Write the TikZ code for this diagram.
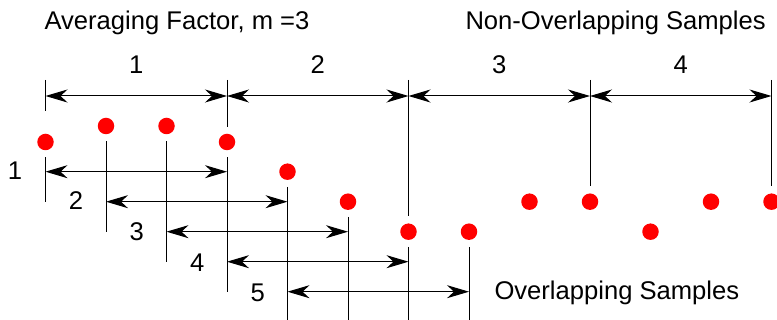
\documentclass[tikz,border=0pt]{standalone}
\usepackage{fontspec}
\setmainfont{Liberation Sans}
\usetikzlibrary{arrows.meta}
\begin{document}
\begin{tikzpicture}[x=1pt,y=-1pt,
  line width=1pt,
  >={Stealth[length=22pt,width=13pt,inset=7pt]},
  lbl/.style={inner sep=0pt,font=\fontsize{25.6}{30}\selectfont},
  sample/.style={circle,fill=red,draw=none,minimum size=16.5pt,inner sep=0pt,outer sep=7pt},
  dimline/.style={<->}]
\useasboundingbox (0,0) rectangle (777,320);
% titles
\node[lbl,anchor=base west] (title1) at (44,29.3) {Averaging Factor, m =3};
\node[lbl,anchor=base west] (title2) at (465,29.3) {Non-Overlapping Samples};
\node[lbl,anchor=base west] (title3) at (494,300) {Overlapping Samples};
% samples
\node[sample] (d1) at (45.5,142) {};
\node[sample] (d2) at (106,126) {};
\node[sample] (d3) at (166.5,126) {};
\node[sample] (d4) at (227,142) {};
\node[sample] (d5) at (287.5,171.7) {};
\node[sample] (d6) at (348,201.7) {};
\node[sample] (d7) at (408.5,231.7) {};
\node[sample] (d8) at (469,231.7) {};
\node[sample] (d9) at (529.5,201.7) {};
\node[sample] (d10) at (590,201.7) {};
\node[sample] (d11) at (650.5,231.7) {};
\node[sample] (d12) at (711,201.7) {};
\node[sample] (d13) at (771.5,201.7) {};
% top (non-overlapping) dimension lines
\coordinate (n0) at (45.5,96);
\coordinate (n1) at (227,96);
\coordinate (n2) at (408.5,96);
\coordinate (n3) at (590,96);
\coordinate (n4) at (771.5,96);
\coordinate (t0a) at (45.5,80);
\coordinate (t0b) at (45.5,111);
\coordinate (t1) at (227,80);
\coordinate (t2) at (408.5,80);
\coordinate (t3) at (590,80);
\coordinate (t4) at (771.5,80);
\draw (t0a) -- (t0b);
\draw (t1) -- (d4);
\draw (t2) -- (d7);
\draw (t3) -- (d10);
\draw (t4) -- (d13);
\draw[dimline] (n0) -- (n1);
\draw[dimline] (n1) -- (n2);
\draw[dimline] (n2) -- (n3);
\draw[dimline] (n3) -- (n4);
\node[lbl,anchor=base] (nl1) at (136.25,74) {1};
\node[lbl,anchor=base] (nl2) at (317.75,74) {2};
\node[lbl,anchor=base] (nl3) at (499.25,74) {3};
\node[lbl,anchor=base] (nl4) at (680.75,74) {4};
% lower vertical lines
\coordinate (b1) at (45.5,201.7);
\coordinate (b2) at (106,231.7);
\coordinate (b3) at (166.5,261.7);
\coordinate (b4) at (227,291.7);
\coordinate (b5) at (287.5,320);
\coordinate (b6) at (348,320);
\coordinate (b7) at (408.5,320);
\coordinate (b8) at (469,320);
\draw (d1) -- (b1);
\draw (d2) -- (b2);
\draw (d3) -- (b3);
\draw (d4) -- (b4);
\draw (d5) -- (b5);
\draw (d6) -- (b6);
\draw (d7) -- (b7);
\draw (d8) -- (b8);
% overlapping dimension lines
\coordinate (r1a) at (45.5,171.7);  \coordinate (r1b) at (227,171.7);
\coordinate (r2a) at (106,201.7);   \coordinate (r2b) at (287.5,201.7);
\coordinate (r3a) at (166.5,231.7); \coordinate (r3b) at (348,231.7);
\coordinate (r4a) at (227,261.7);   \coordinate (r4b) at (408.5,261.7);
\coordinate (r5a) at (287.5,291.7); \coordinate (r5b) at (469,291.7);
\draw[dimline] (r1a) -- (r1b);
\draw[dimline] (r2a) -- (r2b);
\draw[dimline] (r3a) -- (r3b);
\draw[dimline] (r4a) -- (r4b);
\draw[dimline] (r5a) -- (r5b);
\node[lbl] (ol1) at (15,171) {1};
\node[lbl] (ol2) at (76,201) {2};
\node[lbl] (ol3) at (136.7,231.5) {3};
\node[lbl] (ol4) at (197.3,262.5) {4};
\node[lbl] (ol5) at (257.7,293.3) {5};
\end{tikzpicture}
\end{document}
